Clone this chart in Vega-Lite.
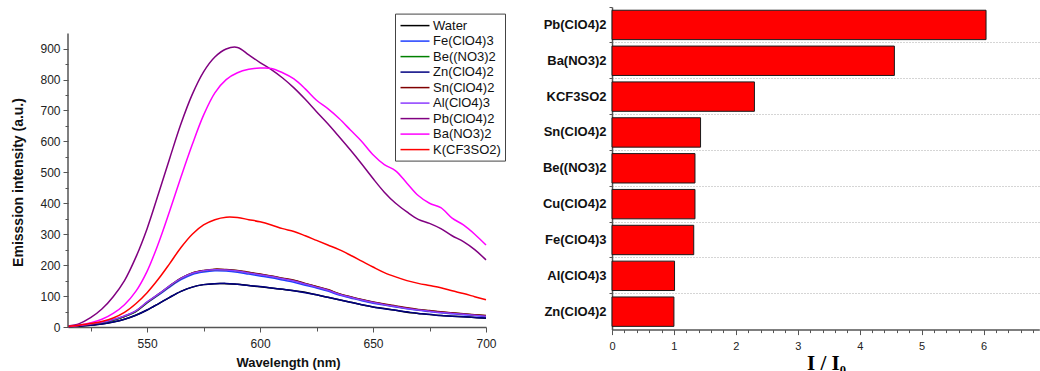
{
  "$schema": "https://vega.github.io/schema/vega-lite/v6.json",
  "background": "white",
  "padding": {"left": 11, "top": 6, "right": 0, "bottom": 0},
  "bounds": "flush",
  "spacing": 126,
  "resolve": {"legend": {"color": "independent"}, "scale": {"color": "independent"}},
  "config": {
    "view": {"stroke": null},
    "font": "Liberation Sans",
    "axis": {
      "labelFont": "Liberation Sans",
      "titleFont": "Liberation Sans",
      "domainColor": "#555",
      "domainWidth": 1.5,
      "tickColor": "#555",
      "tickWidth": 1,
      "labelColor": "#222",
      "titleColor": "#111",
      "labelOverlap": false,
      "labelFlush": false
    }
  },
  "hconcat": [
    {
      "width": 418,
      "height": 320,
      "data": {
        "values": [
          {"w": 515, "Water": 2, "Fe(ClO4)3": 3, "Be((NO3)2": 3, "Zn(ClO4)2": 2, "Sn(ClO4)2": 3, "Al(ClO4)3": 3, "Pb(ClO4)2": 3, "Ba(NO3)2": 2, "K(CF3SO2)": 2},
          {"w": 520, "Water": 3, "Fe(ClO4)3": 5, "Be((NO3)2": 5, "Zn(ClO4)2": 3, "Sn(ClO4)2": 5, "Al(ClO4)3": 6, "Pb(ClO4)2": 11, "Ba(NO3)2": 6, "K(CF3SO2)": 6},
          {"w": 525, "Water": 6, "Fe(ClO4)3": 9, "Be((NO3)2": 9, "Zn(ClO4)2": 6, "Sn(ClO4)2": 9, "Al(ClO4)3": 10, "Pb(ClO4)2": 30, "Ba(NO3)2": 14, "K(CF3SO2)": 11},
          {"w": 530, "Water": 10, "Fe(ClO4)3": 14, "Be((NO3)2": 14, "Zn(ClO4)2": 10, "Sn(ClO4)2": 15, "Al(ClO4)3": 15, "Pb(ClO4)2": 58, "Ba(NO3)2": 25, "K(CF3SO2)": 18},
          {"w": 535, "Water": 16, "Fe(ClO4)3": 22, "Be((NO3)2": 22, "Zn(ClO4)2": 16, "Sn(ClO4)2": 23, "Al(ClO4)3": 24, "Pb(ClO4)2": 98, "Ba(NO3)2": 44, "K(CF3SO2)": 29},
          {"w": 540, "Water": 25, "Fe(ClO4)3": 34, "Be((NO3)2": 34, "Zn(ClO4)2": 25, "Sn(ClO4)2": 35, "Al(ClO4)3": 36, "Pb(ClO4)2": 150, "Ba(NO3)2": 72, "K(CF3SO2)": 47},
          {"w": 545, "Water": 38, "Fe(ClO4)3": 50, "Be((NO3)2": 50, "Zn(ClO4)2": 38, "Sn(ClO4)2": 51, "Al(ClO4)3": 52, "Pb(ClO4)2": 225, "Ba(NO3)2": 115, "K(CF3SO2)": 75},
          {"w": 550, "Water": 55, "Fe(ClO4)3": 78, "Be((NO3)2": 79, "Zn(ClO4)2": 55, "Sn(ClO4)2": 80, "Al(ClO4)3": 81, "Pb(ClO4)2": 318, "Ba(NO3)2": 180, "K(CF3SO2)": 111},
          {"w": 555, "Water": 75, "Fe(ClO4)3": 103, "Be((NO3)2": 105, "Zn(ClO4)2": 75, "Sn(ClO4)2": 106, "Al(ClO4)3": 106, "Pb(ClO4)2": 430, "Ba(NO3)2": 270, "K(CF3SO2)": 155},
          {"w": 560, "Water": 96, "Fe(ClO4)3": 129, "Be((NO3)2": 132, "Zn(ClO4)2": 96, "Sn(ClO4)2": 133, "Al(ClO4)3": 133, "Pb(ClO4)2": 545, "Ba(NO3)2": 375, "K(CF3SO2)": 205},
          {"w": 565, "Water": 115, "Fe(ClO4)3": 153, "Be((NO3)2": 157, "Zn(ClO4)2": 115, "Sn(ClO4)2": 158, "Al(ClO4)3": 157, "Pb(ClO4)2": 657, "Ba(NO3)2": 485, "K(CF3SO2)": 257},
          {"w": 570, "Water": 129, "Fe(ClO4)3": 170, "Be((NO3)2": 174, "Zn(ClO4)2": 129, "Sn(ClO4)2": 175, "Al(ClO4)3": 174, "Pb(ClO4)2": 752, "Ba(NO3)2": 590, "K(CF3SO2)": 300},
          {"w": 575, "Water": 137, "Fe(ClO4)3": 178, "Be((NO3)2": 182, "Zn(ClO4)2": 137, "Sn(ClO4)2": 183, "Al(ClO4)3": 182, "Pb(ClO4)2": 825, "Ba(NO3)2": 685, "K(CF3SO2)": 330},
          {"w": 580, "Water": 140, "Fe(ClO4)3": 182, "Be((NO3)2": 186, "Zn(ClO4)2": 140, "Sn(ClO4)2": 187, "Al(ClO4)3": 185, "Pb(ClO4)2": 873, "Ba(NO3)2": 757, "K(CF3SO2)": 347},
          {"w": 585, "Water": 140, "Fe(ClO4)3": 181, "Be((NO3)2": 185, "Zn(ClO4)2": 141, "Sn(ClO4)2": 186, "Al(ClO4)3": 184, "Pb(ClO4)2": 899, "Ba(NO3)2": 800, "K(CF3SO2)": 355},
          {"w": 590, "Water": 138, "Fe(ClO4)3": 177, "Be((NO3)2": 182, "Zn(ClO4)2": 138, "Sn(ClO4)2": 183, "Al(ClO4)3": 181, "Pb(ClO4)2": 904, "Ba(NO3)2": 822, "K(CF3SO2)": 354},
          {"w": 595, "Water": 134, "Fe(ClO4)3": 171, "Be((NO3)2": 176, "Zn(ClO4)2": 134, "Sn(ClO4)2": 177, "Al(ClO4)3": 175, "Pb(ClO4)2": 880, "Ba(NO3)2": 833, "K(CF3SO2)": 347},
          {"w": 600, "Water": 130, "Fe(ClO4)3": 165, "Be((NO3)2": 170, "Zn(ClO4)2": 131, "Sn(ClO4)2": 171, "Al(ClO4)3": 169, "Pb(ClO4)2": 855, "Ba(NO3)2": 837, "K(CF3SO2)": 340},
          {"w": 605, "Water": 126, "Fe(ClO4)3": 159, "Be((NO3)2": 164, "Zn(ClO4)2": 126, "Sn(ClO4)2": 165, "Al(ClO4)3": 163, "Pb(ClO4)2": 832, "Ba(NO3)2": 836, "K(CF3SO2)": 330},
          {"w": 610, "Water": 122, "Fe(ClO4)3": 152, "Be((NO3)2": 157, "Zn(ClO4)2": 122, "Sn(ClO4)2": 158, "Al(ClO4)3": 156, "Pb(ClO4)2": 805, "Ba(NO3)2": 822, "K(CF3SO2)": 318},
          {"w": 615, "Water": 117, "Fe(ClO4)3": 145, "Be((NO3)2": 150, "Zn(ClO4)2": 117, "Sn(ClO4)2": 151, "Al(ClO4)3": 149, "Pb(ClO4)2": 773, "Ba(NO3)2": 802, "K(CF3SO2)": 309},
          {"w": 620, "Water": 112, "Fe(ClO4)3": 135, "Be((NO3)2": 140, "Zn(ClO4)2": 111, "Sn(ClO4)2": 141, "Al(ClO4)3": 139, "Pb(ClO4)2": 736, "Ba(NO3)2": 770, "K(CF3SO2)": 295},
          {"w": 625, "Water": 104, "Fe(ClO4)3": 126, "Be((NO3)2": 130, "Zn(ClO4)2": 104, "Sn(ClO4)2": 131, "Al(ClO4)3": 129, "Pb(ClO4)2": 696, "Ba(NO3)2": 733, "K(CF3SO2)": 280},
          {"w": 630, "Water": 96, "Fe(ClO4)3": 116, "Be((NO3)2": 120, "Zn(ClO4)2": 96, "Sn(ClO4)2": 121, "Al(ClO4)3": 119, "Pb(ClO4)2": 657, "Ba(NO3)2": 706, "K(CF3SO2)": 265},
          {"w": 635, "Water": 88, "Fe(ClO4)3": 103, "Be((NO3)2": 107, "Zn(ClO4)2": 88, "Sn(ClO4)2": 108, "Al(ClO4)3": 106, "Pb(ClO4)2": 615, "Ba(NO3)2": 674, "K(CF3SO2)": 250},
          {"w": 640, "Water": 80, "Fe(ClO4)3": 94, "Be((NO3)2": 97, "Zn(ClO4)2": 80, "Sn(ClO4)2": 98, "Al(ClO4)3": 96, "Pb(ClO4)2": 572, "Ba(NO3)2": 637, "K(CF3SO2)": 232},
          {"w": 645, "Water": 72, "Fe(ClO4)3": 85, "Be((NO3)2": 88, "Zn(ClO4)2": 72, "Sn(ClO4)2": 89, "Al(ClO4)3": 87, "Pb(ClO4)2": 527, "Ba(NO3)2": 600, "K(CF3SO2)": 213},
          {"w": 650, "Water": 65, "Fe(ClO4)3": 77, "Be((NO3)2": 80, "Zn(ClO4)2": 65, "Sn(ClO4)2": 81, "Al(ClO4)3": 79, "Pb(ClO4)2": 480, "Ba(NO3)2": 557, "K(CF3SO2)": 194},
          {"w": 655, "Water": 60, "Fe(ClO4)3": 71, "Be((NO3)2": 73, "Zn(ClO4)2": 59, "Sn(ClO4)2": 74, "Al(ClO4)3": 72, "Pb(ClO4)2": 436, "Ba(NO3)2": 525, "K(CF3SO2)": 176},
          {"w": 660, "Water": 54, "Fe(ClO4)3": 65, "Be((NO3)2": 67, "Zn(ClO4)2": 54, "Sn(ClO4)2": 68, "Al(ClO4)3": 66, "Pb(ClO4)2": 400, "Ba(NO3)2": 505, "K(CF3SO2)": 162},
          {"w": 665, "Water": 48, "Fe(ClO4)3": 59, "Be((NO3)2": 61, "Zn(ClO4)2": 49, "Sn(ClO4)2": 62, "Al(ClO4)3": 60, "Pb(ClO4)2": 372, "Ba(NO3)2": 465, "K(CF3SO2)": 150},
          {"w": 670, "Water": 44, "Fe(ClO4)3": 54, "Be((NO3)2": 56, "Zn(ClO4)2": 44, "Sn(ClO4)2": 57, "Al(ClO4)3": 55, "Pb(ClO4)2": 348, "Ba(NO3)2": 425, "K(CF3SO2)": 141},
          {"w": 675, "Water": 40, "Fe(ClO4)3": 50, "Be((NO3)2": 52, "Zn(ClO4)2": 41, "Sn(ClO4)2": 53, "Al(ClO4)3": 51, "Pb(ClO4)2": 335, "Ba(NO3)2": 400, "K(CF3SO2)": 134},
          {"w": 680, "Water": 37, "Fe(ClO4)3": 46, "Be((NO3)2": 48, "Zn(ClO4)2": 37, "Sn(ClO4)2": 49, "Al(ClO4)3": 47, "Pb(ClO4)2": 318, "Ba(NO3)2": 386, "K(CF3SO2)": 127},
          {"w": 685, "Water": 35, "Fe(ClO4)3": 43, "Be((NO3)2": 45, "Zn(ClO4)2": 35, "Sn(ClO4)2": 46, "Al(ClO4)3": 44, "Pb(ClO4)2": 295, "Ba(NO3)2": 352, "K(CF3SO2)": 117},
          {"w": 690, "Water": 33, "Fe(ClO4)3": 40, "Be((NO3)2": 42, "Zn(ClO4)2": 33, "Sn(ClO4)2": 43, "Al(ClO4)3": 41, "Pb(ClO4)2": 276, "Ba(NO3)2": 330, "K(CF3SO2)": 108},
          {"w": 695, "Water": 31, "Fe(ClO4)3": 37, "Be((NO3)2": 39, "Zn(ClO4)2": 31, "Sn(ClO4)2": 40, "Al(ClO4)3": 38, "Pb(ClO4)2": 250, "Ba(NO3)2": 300, "K(CF3SO2)": 98},
          {"w": 700, "Water": 28, "Fe(ClO4)3": 34, "Be((NO3)2": 36, "Zn(ClO4)2": 29, "Sn(ClO4)2": 37, "Al(ClO4)3": 35, "Pb(ClO4)2": 217, "Ba(NO3)2": 265, "K(CF3SO2)": 88}
        ]
      },
      "layer": [
        {
          "transform": [
            {"fold": ["Water", "Fe(ClO4)3", "Be((NO3)2", "Zn(ClO4)2", "Sn(ClO4)2", "Al(ClO4)3", "Pb(ClO4)2", "Ba(NO3)2", "K(CF3SO2)"], "as": ["series", "v"]}
          ],
          "mark": {"type": "line", "strokeWidth": 1.5, "interpolate": "catmull-rom"},
          "encoding": {
            "x": {
              "field": "w", "type": "quantitative",
              "scale": {"domain": [515, 700], "nice": false, "zero": false},
              "axis": {
                "values": [525, 550, 575, 600, 625, 650, 675, 700],
                "tickCount": 100,
                "labelExpr": "datum.value % 50 === 0 ? datum.label : ''",
                "labelOverlap": false,
                "tickSize": {"condition": {"test": "datum.value % 50 !== 0", "value": 4}, "value": 5},
                "grid": false,
                "labelFontSize": 12,
                "labelPadding": 6,
                "title": "Wavelength (nm)",
                "titleFontSize": 13,
                "titleFontWeight": "bold",
                "titleX": 220,
                "titleY": 35,
                "titleAlign": "center",
                "titleBaseline": "middle"
              }
            },
            "y": {
              "field": "v", "type": "quantitative",
              "scale": {"domain": [0, 1034.6], "nice": false},
              "axis": {
                "values": [0, 50, 100, 150, 200, 250, 300, 350, 400, 450, 500, 550, 600, 650, 700, 750, 800, 850, 900],
                "tickCount": 100,
                "labelExpr": "datum.value % 100 === 0 ? datum.label : ''",
                "labelOverlap": false,
                "tickSize": {"condition": {"test": "datum.value % 100 !== 0", "value": 3}, "value": 5},
                "domain": false,
                "grid": false,
                "labelFontSize": 12,
                "labelPadding": 3,
                "title": "Emisssion intensity (a.u.)",
                "titleFontSize": 14,
                "titleFontWeight": "bold",
                "titleAngle": -90,
                "titleX": -50,
                "titleY": 175,
                "titleAlign": "center",
                "titleBaseline": "middle"
              }
            },
            "color": {
              "field": "series", "type": "nominal",
              "scale": {
                "domain": ["Water", "Fe(ClO4)3", "Be((NO3)2", "Zn(ClO4)2", "Sn(ClO4)2", "Al(ClO4)3", "Pb(ClO4)2", "Ba(NO3)2", "K(CF3SO2)"],
                "range": ["#000000", "#1f3fff", "#008000", "#000080", "#800000", "#8c3cff", "#800080", "#ff00ff", "#ff0000"]
              },
              "legend": {
                "orient": "none",
                "legendX": 327,
                "legendY": 6.6,
                "title": null,
                "symbolType": "M-2,0H2",
                "symbolSize": 210,
                "symbolStrokeWidth": 1.5,
                "symbolOffset": 8,
                "labelOffset": 10,
                "labelFontSize": 13,
                "labelFont": "Liberation Sans",
                "labelColor": "#111",
                "rowPadding": 0.5,
                "padding": 4,
                "strokeColor": "#444",
                "fillColor": "white"
              }
            }
          }
        },
        {
          "data": {"values": [{}]},
          "mark": {"type": "rule", "color": "#555", "strokeWidth": 1.5},
          "encoding": {
            "x": {"datum": 515, "type": "quantitative"},
            "y": {"datum": 0, "type": "quantitative"},
            "y2": {"datum": 949}
          }
        }
      ]
    },
    {
      "width": 427.3,
      "height": 322.6,
      "data": {
        "values": [
          {"salt": "Pb(ClO4)2", "ratio": 6.04},
          {"salt": "Ba(NO3)2", "ratio": 4.56},
          {"salt": "KCF3SO2", "ratio": 2.3},
          {"salt": "Sn(ClO4)2", "ratio": 1.43},
          {"salt": "Be((NO3)2", "ratio": 1.34},
          {"salt": "Cu(ClO4)2", "ratio": 1.34},
          {"salt": "Fe(ClO4)3", "ratio": 1.32},
          {"salt": "Al(ClO4)3", "ratio": 1.01},
          {"salt": "Zn(ClO4)2", "ratio": 1.0}
        ]
      },
      "mark": {"type": "bar", "fill": "#ff0000", "stroke": "#1a1a1a", "strokeWidth": 1, "height": {"band": 0.82}},
      "encoding": {
        "y": {
          "field": "salt", "type": "nominal",
          "sort": ["Pb(ClO4)2", "Ba(NO3)2", "KCF3SO2", "Sn(ClO4)2", "Be((NO3)2", "Cu(ClO4)2", "Fe(ClO4)3", "Al(ClO4)3", "Zn(ClO4)2"],
          "scale": {"paddingInner": 0, "paddingOuter": 0},
          "axis": {
            "title": null,
            "bandPosition": 0,
            "tickSize": 3,
            "labelFontSize": 13,
            "labelFontWeight": "bold",
            "labelColor": "#111",
            "labelPadding": 3,
            "grid": true,
            "gridDash": [1, 2],
            "gridColor": "#aaa",
            "gridOpacity": {"condition": {"test": "datum.value === 'Pb(ClO4)2'", "value": 0}, "value": 1}
          }
        },
        "x": {
          "field": "ratio", "type": "quantitative",
          "scale": {"domain": [0, 6.9], "nice": false},
          "axis": {
            "values": [0, 0.2, 0.4, 0.6, 0.8, 1, 1.2, 1.4, 1.6, 1.8, 2, 2.2, 2.4, 2.6, 2.8, 3, 3.2, 3.4, 3.6, 3.8, 4, 4.2, 4.4, 4.6, 4.8, 5, 5.2, 5.4, 5.6, 5.8, 6, 6.2, 6.4, 6.6, 6.8],
            "tickCount": 100,
            "labelExpr": "datum.value % 1 === 0 ? format(datum.value, 'd') : ''",
            "labelOverlap": false,
            "tickSize": {"condition": {"test": "datum.value % 1 !== 0", "value": 3}, "value": 5},
            "grid": false,
            "labelFontSize": 11,
            "labelPadding": 6,
            "title": "I / I₀",
            "titleFont": "Liberation Serif",
            "titleFontSize": 21,
            "titleFontWeight": "bold",
            "titleColor": "#000",
            "titleX": 214,
            "titleY": 40,
            "titleAlign": "center",
            "titleBaseline": "alphabetic"
          }
        }
      }
    }
  ]
}
